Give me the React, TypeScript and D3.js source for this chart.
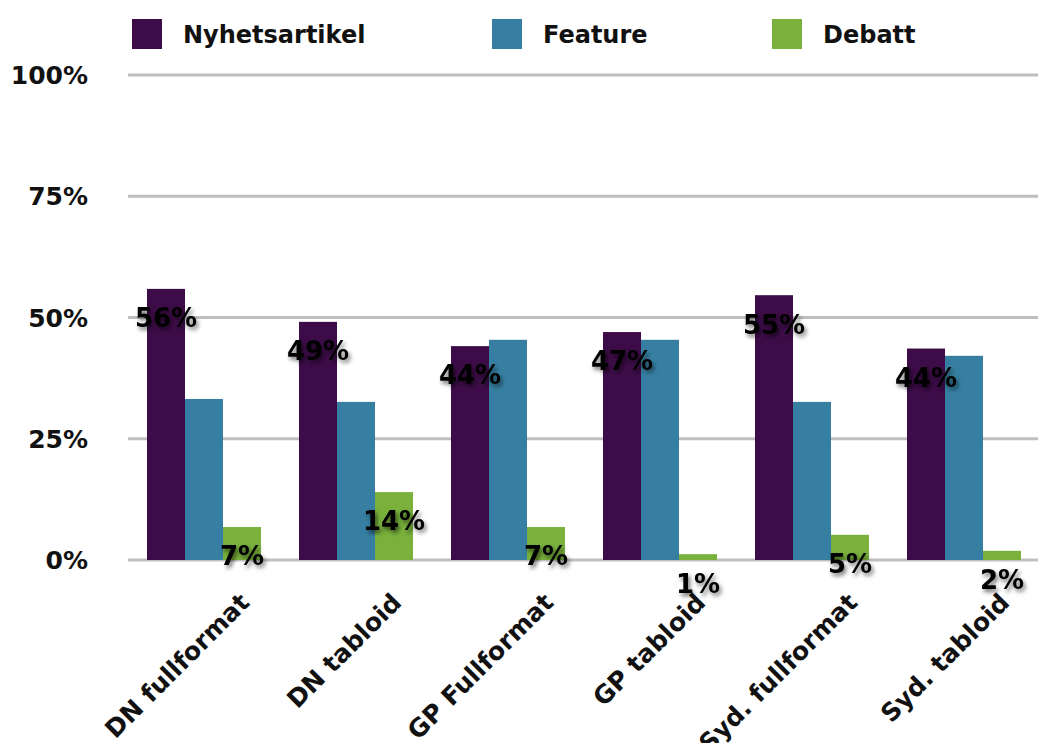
import React, { useEffect, useRef } from 'react';
import * as d3 from 'd3';

const categories = ['DN fullformat', 'DN tabloid', 'GP Fullformat', 'GP tabloid', 'Syd. fullformat', 'Syd. tabloid'];
const seriesNames = ['Nyhetsartikel', 'Feature', 'Debatt'];
const nyhetsartikel = [55.9, 49.1, 44.1, 47.0, 54.6, 43.6];
const feature = [33.2, 32.6, 45.4, 45.4, 32.6, 42.1];
const debatt = [6.8, 14.0, 6.8, 1.2, 5.2, 1.9];
const yTicks = [0, 25, 50, 75, 100];
const colors = ['#3d0c48', '#367fa2', '#79b13c'];
// which series get value labels
const labelled = [true, false, true];

const FONT = '"DejaVu Sans", sans-serif';

const App: React.FC = () => {
  const svgRef = useRef<SVGSVGElement | null>(null);

  useEffect(() => {
    if (!svgRef.current) return;
    const width = 1038;
    const height = 743;
    const svg = d3.select(svgRef.current);
    svg.selectAll('*').remove();
    svg.attr('width', width).attr('height', height);

    const margin = { top: 75, right: 0, bottom: 183, left: 128 };
    const series = [nyhetsartikel, feature, debatt];

    const defs = svg.append('defs');
    const f = defs.append('filter').attr('id', 'shadow')
      .attr('x', '-20%').attr('y', '-20%').attr('width', '150%').attr('height', '160%');
    f.append('feDropShadow').attr('dx', 2).attr('dy', 3).attr('stdDeviation', 2)
      .attr('flood-color', '#000').attr('flood-opacity', 0.55);

    const x0 = d3.scaleBand<string>()
      .domain(categories)
      .range([margin.left, margin.left + 912])
      .paddingInner(0.25)
      .paddingOuter(0.125);
    const x1 = d3.scaleBand<number>()
      .domain([0, 1, 2])
      .range([0, x0.bandwidth()]);
    const y = d3.scaleLinear().domain([0, 100]).range([height - margin.bottom, margin.top]);

    // gridlines
    svg.append('g').selectAll('line').data(yTicks).join('line')
      .attr('x1', margin.left).attr('x2', width)
      .attr('y1', d => y(d)).attr('y2', d => y(d))
      .attr('stroke', '#bfbfbf').attr('stroke-width', 3);

    svg.append('g').selectAll('text').data(yTicks).join('text')
      .attr('x', 88).attr('y', d => y(d)).attr('dy', '0.36em')
      .attr('text-anchor', 'end')
      .attr('font-family', FONT).attr('font-weight', 'bold').attr('font-size', 25)
      .attr('fill', '#111')
      .text(d => `${d}%`);

    // bars
    series.forEach((vals, si) => {
      svg.append('g').selectAll('rect').data(vals).join('rect')
        .attr('x', (_, i) => (x0(categories[i]) as number) + (x1(si) as number))
        .attr('width', x1.bandwidth())
        .attr('y', d => y(d))
        .attr('height', d => y(0) - y(d))
        .attr('fill', colors[si]);
    });

    // value labels
    series.forEach((vals, si) => {
      if (!labelled[si]) return;
      svg.append('g').selectAll('text').data(vals).join('text')
        .attr('x', (_, i) => (x0(categories[i]) as number) + (x1(si) as number) + x1.bandwidth() / 2)
        .attr('y', d => y(d) + 29)
        .attr('dy', '0.36em')
        .attr('text-anchor', 'middle')
        .attr('font-family', FONT).attr('font-weight', 'bold').attr('font-size', 26)
        .attr('fill', '#000')
        .attr('filter', 'url(#shadow)')
        .text(d => `${Math.round(d)}%`);
    });

    // category labels
    svg.append('g').selectAll('text').data(categories).join('text')
      .attr('transform', d => `translate(${(x0(d) as number) + x0.bandwidth() / 2 + 47},${y(0) + 44}) rotate(-45)`)
      .attr('text-anchor', 'end')
      .attr('font-family', FONT).attr('font-weight', 'bold').attr('font-size', 25)
      .attr('fill', '#111')
      .text(d => d);

    // legend
    const legendX = [132, 492, 772];
    const lg = svg.append('g').selectAll('g').data(seriesNames).join('g')
      .attr('transform', (_, i) => `translate(${legendX[i]},19)`);
    lg.append('rect').attr('width', 30).attr('height', 30).attr('fill', (_, i) => colors[i]);
    lg.append('text').attr('x', 51).attr('y', 15).attr('dy', '0.36em')
      .attr('font-family', FONT).attr('font-weight', 'bold').attr('font-size', 24)
      .attr('fill', '#111')
      .text(d => d);
  }, []);

  return <svg ref={svgRef} style={{ position: 'absolute', left: 0, top: 0, background: '#fff' }}></svg>;
};

export default App;
